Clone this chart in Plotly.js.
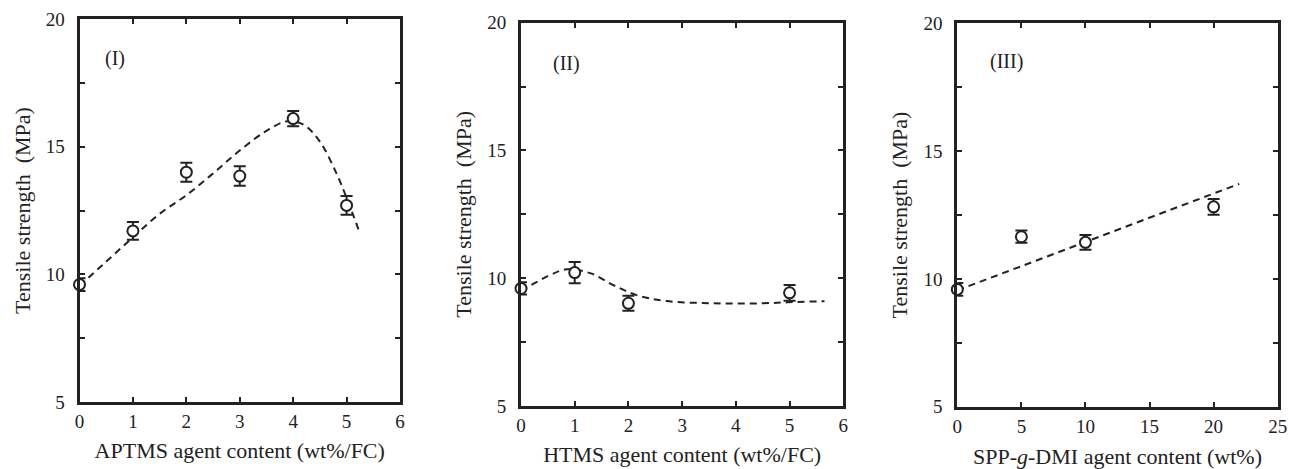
<!DOCTYPE html>
<html>
<head>
<meta charset="utf-8">
<script src="https://cdn.plot.ly/plotly-3.0.1.min.js"></script>
<style>html,body{margin:0;padding:0;background:#fff;}#chart{width:1289px;height:469px;}</style>
</head>
<body>
<div id="chart"></div>
<script>
// Panel I: APTMS
const aptmsX = [0, 1, 2, 3, 4, 5];
const aptmsY = [9.6, 11.7, 14.0, 13.85, 16.1, 12.7];
const aptmsErr = [0.25, 0.35, 0.37, 0.38, 0.3, 0.37];
const aptmsFitX = [0, 0.5, 1, 1.5, 2, 2.5, 3, 3.5, 3.9, 4.2, 4.5, 4.8, 5.0, 5.25];
const aptmsFitY = [9.55, 10.5, 11.45, 12.37, 13.1, 13.95, 14.85, 15.62, 16.0, 15.85, 15.2, 14.0, 13.0, 11.6];

// Panel II: HTMS
const htmsX = [0, 1, 2, 5];
const htmsY = [9.6, 10.22, 9.02, 9.43];
const htmsErr = [0.24, 0.42, 0.29, 0.31];
const htmsFitX = [0, 0.5, 0.85, 1.3, 1.7, 2.15, 2.7, 3.6, 4.5, 5.1, 5.65];
const htmsFitY = [9.5, 10.08, 10.35, 10.19, 9.75, 9.34, 9.11, 9.02, 9.02, 9.07, 9.1];

// Panel III: SPP-g-DMI
const sppX = [0, 5, 10, 20];
const sppY = [9.59, 11.65, 11.43, 12.82];
const sppErr = [0.25, 0.24, 0.29, 0.31];
const sppFitX = [0, 22];
const sppFitY = [9.55, 13.72];

const yTickVals = [5, 7.5, 10, 12.5, 15, 17.5, 20];
const yTickText = ['5', '', '10', '', '15', '', '20'];
const panelLabels = ['(I)', '(II)', '(III)'];
const xTitles = ['APTMS agent content (wt%/FC)', 'HTMS agent content (wt%/FC)', 'SPP-<i>g</i>-DMI agent content (wt%)'];
const yTitle = 'Tensile strength  (MPa)';

const ink = '#222';
const fontFam = '"Liberation Serif", "Times New Roman", serif';
const W = 1289, H = 469;

function fitTrace(x, y, n) {
  return {x: x, y: y, xaxis: 'x' + n, yaxis: 'y' + n, mode: 'lines', type: 'scatter', cliponaxis: false,
    line: {color: ink, width: 2, dash: '7px,5px', shape: 'spline', smoothing: 1}, hoverinfo: 'skip', showlegend: false};
}
function ptTrace(x, y, e, n) {
  return {x: x, y: y, xaxis: 'x' + n, yaxis: 'y' + n, mode: 'markers', type: 'scatter', cliponaxis: false,
    error_y: {type: 'data', array: e, visible: true, color: ink, thickness: 2, width: 6},
    marker: {symbol: 'circle', size: 11, color: '#fff', line: {color: ink, width: 2}}, showlegend: false};
}

const data = [
  fitTrace(aptmsFitX, aptmsFitY, ''), ptTrace(aptmsX, aptmsY, aptmsErr, ''),
  fitTrace(htmsFitX, htmsFitY, '2'), ptTrace(htmsX, htmsY, htmsErr, '2'),
  fitTrace(sppFitX, sppFitY, '3'), ptTrace(sppX, sppY, sppErr, '3')
];

// pixel boxes of the three plot areas
const boxes = [
  {l: 79.5, r: 400, t: 19, b: 402},
  {l: 521, r: 843.3, t: 22.7, b: 406},
  {l: 957.3, r: 1277.7, t: 23.3, b: 406.7}
];
const xRanges = [[0, 6], [0, 6], [0, 25]];
const xDticks = [1, 1, 5];
const xStandoff = [12, 12, 24];
const labelPos = [[0.66, 18.47], [0.84, 18.41], [3.85, 18.5]];

const layout = {
  width: W, height: H,
  margin: {l: 0, r: 0, t: 0, b: 0},
  paper_bgcolor: '#fff', plot_bgcolor: '#fff',
  font: {family: fontFam, color: ink, size: 19},
  showlegend: false,
  annotations: []
};

boxes.forEach((bx, i) => {
  const s = i === 0 ? '' : String(i + 1);
  layout['xaxis' + s] = {
    domain: [bx.l / W, bx.r / W], range: xRanges[i], dtick: xDticks[i], tick0: 0,
    anchor: 'y' + s, showline: true, linecolor: ink, linewidth: 3, mirror: 'ticks',
    ticks: 'inside', ticklen: 5, tickwidth: 2, tickcolor: ink, showgrid: false, zeroline: false,
    tickfont: {size: 19, family: fontFam, color: ink}, ticklabelstandoff: 0,
    title: {text: xTitles[i], font: {size: 22, family: fontFam, color: ink}, standoff: xStandoff[i]}
  };
  layout['yaxis' + s] = {
    domain: [1 - bx.b / H, 1 - bx.t / H], range: [5, 20], tickmode: 'array', tickvals: yTickVals, ticktext: yTickText,
    anchor: 'x' + s, showline: true, linecolor: ink, linewidth: 3, mirror: 'ticks',
    ticks: 'inside', ticklen: 5, tickwidth: 2, tickcolor: ink, showgrid: false, zeroline: false,
    tickfont: {size: 19, family: fontFam, color: ink}, ticklabelstandoff: 8,
    title: {text: yTitle, font: {size: 22, family: fontFam, color: ink}, standoff: 10}
  };
  layout.annotations.push({
    text: panelLabels[i], x: labelPos[i][0], y: labelPos[i][1], xref: 'x' + s, yref: 'y' + s,
    showarrow: false, font: {size: 20, family: fontFam, color: ink}
  });
});

Plotly.newPlot('chart', data, layout, {displayModeBar: false, staticPlot: true});
</script>
</body>
</html>
